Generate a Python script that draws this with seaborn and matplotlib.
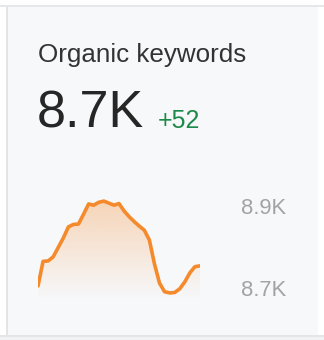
import numpy as np
import pandas as pd
import seaborn as sns
import matplotlib
matplotlib.use("Agg")
import matplotlib.pyplot as plt
from matplotlib.patches import Rectangle

# ---- data ----
days = list(range(33))
keywords = [8705, 8765, 8766, 8776, 8799, 8822, 8849, 8855, 8856, 8880, 8905,
            8902, 8909, 8912, 8907, 8902, 8906, 8888, 8874, 8862, 8851, 8841,
            8817, 8759, 8712, 8691, 8688, 8689, 8698, 8715, 8737, 8752, 8754]
tick_values = [8700, 8900]
tick_labels = ["8.7K", "8.9K"]
title = "Organic keywords"
current_value = "8.7K"
change_label = "+52"

sns.set_theme(style="white")
plt.rcParams["font.family"] = ["Liberation Sans", "DejaVu Sans"]

W, H = 324, 340
fig = plt.figure(figsize=(W / 100, H / 100), dpi=100)
fig.patch.set_facecolor("white")

def fx(px):
    return px / W

def fy(py):
    return 1 - py / H

def rect(x0, y0, x1, y1, color):
    fig.patches.append(Rectangle((fx(x0), fy(y1)), fx(x1) - fx(x0), fy(y0) - fy(y1),
                                 transform=fig.transFigure, facecolor=color,
                                 edgecolor="none", linewidth=0, zorder=-5))

# card background and borders
rect(8, 7, 318, 335, "#f7f8fa")
rect(0, 5, W, 7, "#e6e7e9")
rect(6, 7, 8, 335, "#e3e4e6")
rect(0, 335, W, 337, "#e4e5e7")
rect(0, 337, W, H, "#f1f2f3")

fig.text(fx(38), fy(62), title, fontsize=18.7, color="#333333", va="baseline", ha="left")
fig.text(fx(37), fy(128), current_value, fontsize=37.5, color="#262626", va="baseline", ha="left")
fig.text(fx(158), fy(128), change_label, fontsize=18, color="#1e8a4a", va="baseline", ha="left")

# chart axes
ax = fig.add_axes([fx(38), fy(300), fx(200) - fx(38), fy(180) - fy(300)])
ax.set_facecolor("none")
df = pd.DataFrame({"day": days, "keywords": keywords})

ymin = 8700 - 12 / 0.41
ymax = 8700 + 108 / 0.41

orange = "#f58a2c"
poly = ax.fill_between(df["day"], df["keywords"], ymin, color="none", linewidth=0)
grad = np.zeros((100, 1, 4))
grad[:, 0, 0:3] = matplotlib.colors.to_rgb(orange)
grad[:, 0, 3] = np.linspace(0.32, 0.0, 100)
im = ax.imshow(grad, aspect="auto", extent=[min(days), max(days), ymin, max(keywords)],
               origin="upper", zorder=1)
im.set_clip_path(poly.get_paths()[0], transform=ax.transData)

line_ax = sns.lineplot(data=df, x="day", y="keywords", ax=ax, color=orange,
                       linewidth=2.6, zorder=3)
for ln in line_ax.get_lines():
    ln.set_solid_joinstyle("round")
    ln.set_solid_capstyle("round")
ax.set_xlim(min(days), max(days))
ax.set_ylim(ymin, ymax)

ax.yaxis.tick_right()
ax.set_yticks(tick_values)
ax.set_yticklabels(tick_labels)
ax.tick_params(axis="y", length=0, pad=29.5, labelsize=15.8, labelcolor="#a3a3a3")
ax.set_xticks([])
ax.set_xlabel("")
ax.set_ylabel("")
for s in ax.spines.values():
    s.set_visible(False)

fig.savefig("out.png", dpi=100)
